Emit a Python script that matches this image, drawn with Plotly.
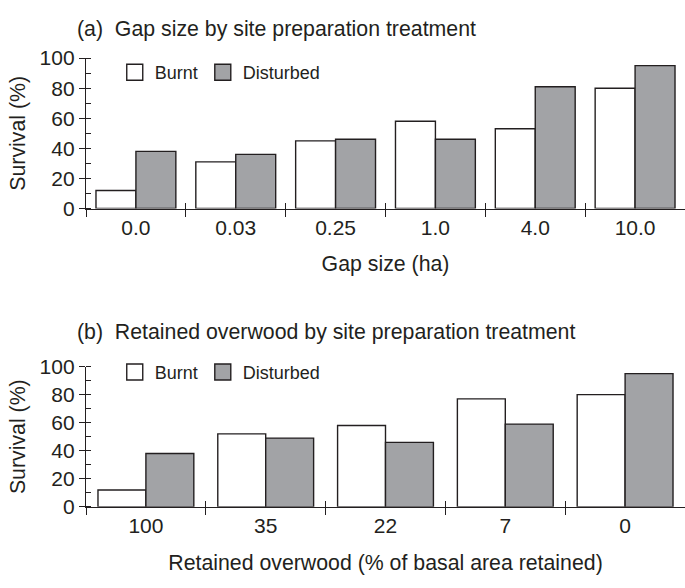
import numpy as np
import plotly.graph_objects as go

# Panel (a): survival by gap size
gap_sizes = ["0.0", "0.03", "0.25", "1.0", "4.0", "10.0"]
gap_burnt = [12, 31, 45, 58, 53, 80]
gap_disturbed = [38, 36, 46, 46, 81, 95]

# Panel (b): survival by retained overwood
overwood = ["100", "35", "22", "7", "0"]
ow_burnt = [12, 52, 58, 77, 80]
ow_disturbed = [38, 49, 46, 59, 95]

series_names = ["Burnt", "Disturbed"]

INK = "#231f20"
GREY = "#a2a3a6"
FONT = "Liberation Sans, Arial, Helvetica, sans-serif"
W, H = 685, 588

fig = go.Figure()


def add_panel(cats, burnt, disturbed, xa, ya, xo, yo, legend):
    for name, vals, fill in ((series_names[0], burnt, "white"),
                             (series_names[1], disturbed, GREY)):
        fig.add_trace(go.Bar(
            x=cats, y=vals, name=name, xaxis=xa, yaxis=ya,
            marker=dict(color=fill, line=dict(color=INK, width=1.4)),
            showlegend=False, hoverinfo="skip"))
    # legend keys
    for name, fill in ((series_names[0], "white"), (series_names[1], GREY)):
        fig.add_trace(go.Scatter(
            x=[None], y=[None], mode="markers", name=name, xaxis=xo, yaxis=yo,
            marker=dict(symbol="square", size=16, color=fill,
                        line=dict(color=INK, width=1.4)),
            legend=legend, hoverinfo="skip"))


add_panel(gap_sizes, gap_burnt, gap_disturbed, "x", "y", "x3", "y3", "legend")
add_panel(overwood, ow_burnt, ow_disturbed, "x2", "y2", "x4", "y4", "legend2")


def ydom(top_px, bottom_px):
    return [1 - bottom_px / H, 1 - top_px / H]


dom_a = ydom(48, 204.5)
dom_b = ydom(369, 515)

tickfont = dict(family=FONT, size=21, color=INK)
titlefont = dict(family=FONT, size=21.3, color=INK)

main_x = dict(type="category", tickson="boundaries", ticks="outside", ticklen=7,
              tickwidth=1.3, tickcolor=INK, showline=True, linecolor=INK,
              linewidth=1.3, showgrid=False, zeroline=False, tickfont=tickfont,
              fixedrange=True)
main_y = dict(range=[0, 100], dtick=20, ticks="outside", ticklen=6, tickwidth=1.3,
              tickcolor=INK, showline=True, linecolor=INK, linewidth=1.3,
              showgrid=False, zeroline=False, tickfont=tickfont,
              minor=dict(dtick=10, ticks="inside", ticklen=5, tickcolor=INK,
                         tickwidth=1.2, showgrid=False),
              title=dict(text="Survival (%)", font=titlefont, standoff=8),
              fixedrange=True)


def over_x(n, base, anchor):
    return dict(overlaying=base, anchor=anchor, range=[-0.5, n - 0.5],
                tickvals=list(np.arange(n + 1) - 0.5), ticks="inside", ticklen=6,
                tickwidth=1.3, tickcolor=INK, showticklabels=False, showline=False,
                showgrid=False, zeroline=False, fixedrange=True)


def over_y(base, anchor):
    return dict(overlaying=base, anchor=anchor, range=[0, 100], dtick=20,
                ticks="inside", ticklen=5, tickwidth=1.3, tickcolor=INK,
                showticklabels=False, showline=False, showgrid=False,
                zeroline=False, fixedrange=True)


fig.update_layout(
    width=W, height=H,
    margin=dict(l=86, r=0, t=0, b=0),
    paper_bgcolor="white", plot_bgcolor="rgba(0,0,0,0)",
    barmode="group", bargap=0.2, bargroupgap=0,
    font=dict(family=FONT, color=INK),
    xaxis=dict(main_x, anchor="y",
               title=dict(text="Gap size (ha)", font=titlefont, standoff=18)),
    yaxis=dict(main_y, domain=dom_a, anchor="x"),
    xaxis2=dict(main_x, anchor="y2",
                title=dict(text="Retained overwood (% of basal area retained)",
                           font=titlefont, standoff=18)),
    yaxis2=dict(main_y, domain=dom_b, anchor="x2"),
    xaxis3=over_x(len(gap_sizes), "x", "y3"),
    yaxis3=over_y("y", "x3"),
    xaxis4=over_x(len(overwood), "x2", "y4"),
    yaxis4=over_y("y2", "x4"),
    legend=dict(orientation="h", x=0.048, y=1 - 63 / H, xanchor="left",
                yanchor="middle", bgcolor="rgba(0,0,0,0)", itemsizing="trace",
                font=dict(family=FONT, size=18, color=INK)),
    legend2=dict(orientation="h", x=0.048, y=1 - 375 / H, xanchor="left",
                 yanchor="middle", bgcolor="rgba(0,0,0,0)", itemsizing="trace",
                 font=dict(family=FONT, size=18, color=INK)),
    annotations=[
        dict(text="(a)  Gap size by site preparation treatment", xref="paper",
             yref="paper", x=-0.018, y=1 - 18 / H, xanchor="left",
             yanchor="middle", showarrow=False, font=titlefont),
        dict(text="(b)  Retained overwood by site preparation treatment",
             xref="paper", yref="paper", x=-0.018, y=1 - 333 / H,
             xanchor="left", yanchor="middle", showarrow=False, font=titlefont),
    ],
)

fig.write_html("out.html")
